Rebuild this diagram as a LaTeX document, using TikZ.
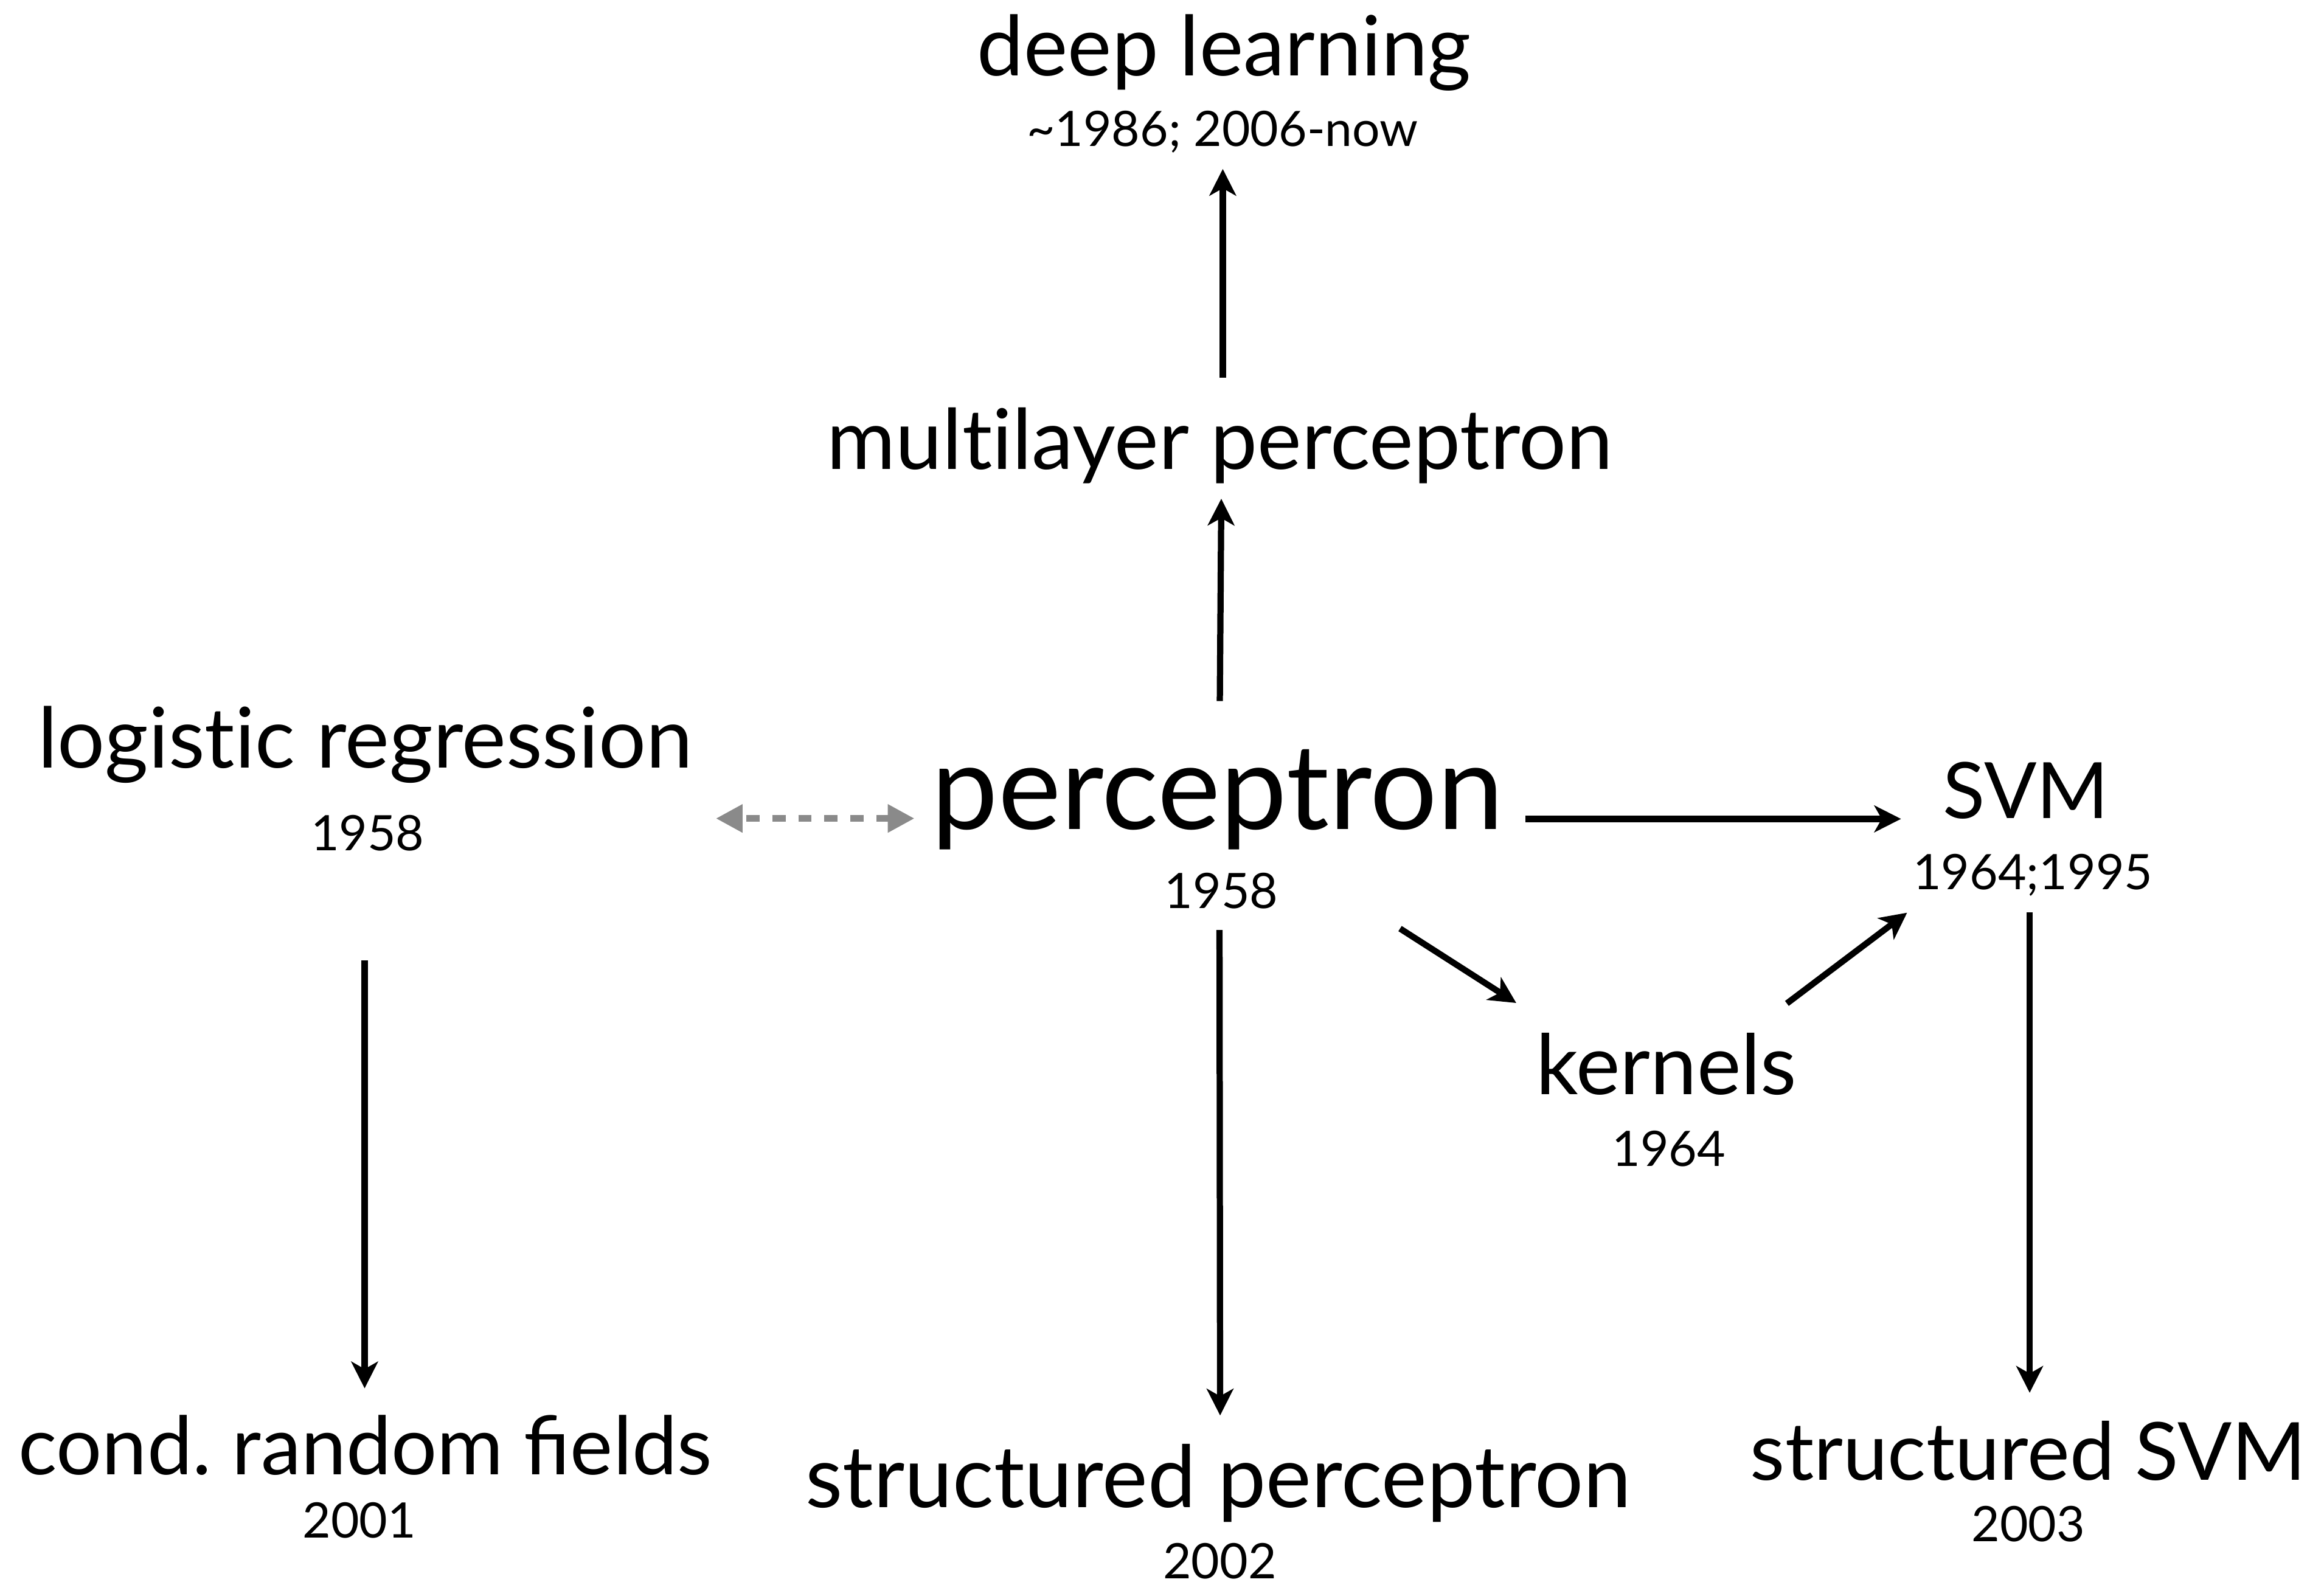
\documentclass[tikz,border=0pt]{standalone}
\usepackage{fontspec}
\setmainfont{Lato}
\usetikzlibrary{arrows.meta,calc}
\definecolor{dashgray}{RGB}{138,138,138}
\newcommand{\fitw}[2]{\resizebox{#1pt}{!}{#2}}
\newcommand{\yr}[1]{{\fontsize{33}{33}\selectfont #1}}
\tikzset{
  lbl/.style={inner sep=0pt, outer sep=0pt, anchor=base},
  arr/.style={line width=4.2pt, -{Stealth[length=18pt,width=18pt,inset=5pt]}},
  darr/.style={line width=4.4pt, dashgray, dash pattern=on 9pt off 8.6pt, dash phase=-3.5pt,
    {Triangle[length=18pt,width=18pt]}-{Triangle[length=18pt,width=18pt]}}
}
\begin{document}
\begin{tikzpicture}[x=1pt,y=-1pt]
\useasboundingbox[fill=white] (0,0) rectangle (1568,1069);
% labels
\node[lbl] (dl)    at (826,50.9)    {\fitw{333}{deep learning}};
\node[lbl] (dly)   at (824.8,98.5)  {\fitw{264}{\textasciitilde1986; 2006-now}};
\node[lbl] (mlp)   at (823,316.7)   {\fitw{530}{mult\kern0pt ilayer perceptron}};
\node[lbl] (per)   at (821.5,559.4) {\fitw{386}{perceptron}};
\node[lbl] (pery)  at (824,613)     {\yr{1958}};
\node[lbl] (lr)    at (246.5,518)   {\fitw{442}{logist\kern0pt ic regression}};
\node[lbl] (lry)   at (248,573.7)   {\yr{1958}};
\node[lbl] (svm)   at (1366.8,552)  {\fitw{112}{SVM}};
\node[lbl] (svmy)  at (1371.5,600.2){\yr{1964;1995}};
\node[lbl] (ker)   at (1124.3,738.3){\fitw{176}{kernels}};
\node[lbl] (kery)  at (1126,787)    {\yr{1964}};
\node[lbl] (crf)   at (246.5,995)   {\fitw{468}{cond.\ random fields}};
\node[lbl] (crfy)  at (242.4,1037.7){\yr{2001}};
\node[lbl] (sp)    at (822,1017)    {\fitw{557}{structured perceptron}};
\node[lbl] (spy)   at (823,1065)    {\yr{2002}};
\node[lbl] (ssvm)  at (1368.5,998.4){\fitw{375}{structured SVM}};
\node[lbl] (ssvmy) at (1368.4,1039.9){\yr{2003}};
% connectors
\draw[arr] ($(per.base)+(1.5,-86.4)$) -- ($(mlp.base)+(1,19.8)$);
\draw[arr] ($(mlp.base)+(2,-61.7)$) -- ($(dly.base)+(0.2,15.5)$);
\draw[arr] ($(per.base)+(207.5,-6.9)$) -- ($(svm.base)+(-84.2,0.5)$);
\draw[arr] ($(pery.base)+(120.6,13.5)$) -- ($(ker.base)+(-101.3,-61.6)$);
\draw[arr] ($(ker.base)+(81.3,-61.3)$) -- ($(svmy.base)+(-84.8,15.6)$);
\draw[arr] ($(pery.base)+(-1.2,14.5)$) -- ($(sp.base)+(1.2,-62)$);
\draw[arr] ($(lry.base)+(-2,74.3)$) -- ($(crf.base)+(-0.5,-58.3)$);
\draw[arr] ($(svmy.base)+(-2.1,15.3)$) -- ($(ssvm.base)+(0.9,-58.7)$);
\draw[darr] ($(lr.base)+(236.5,34.2)$) -- ($(per.base)+(-204.5,-7.2)$);
\end{tikzpicture}
\end{document}
